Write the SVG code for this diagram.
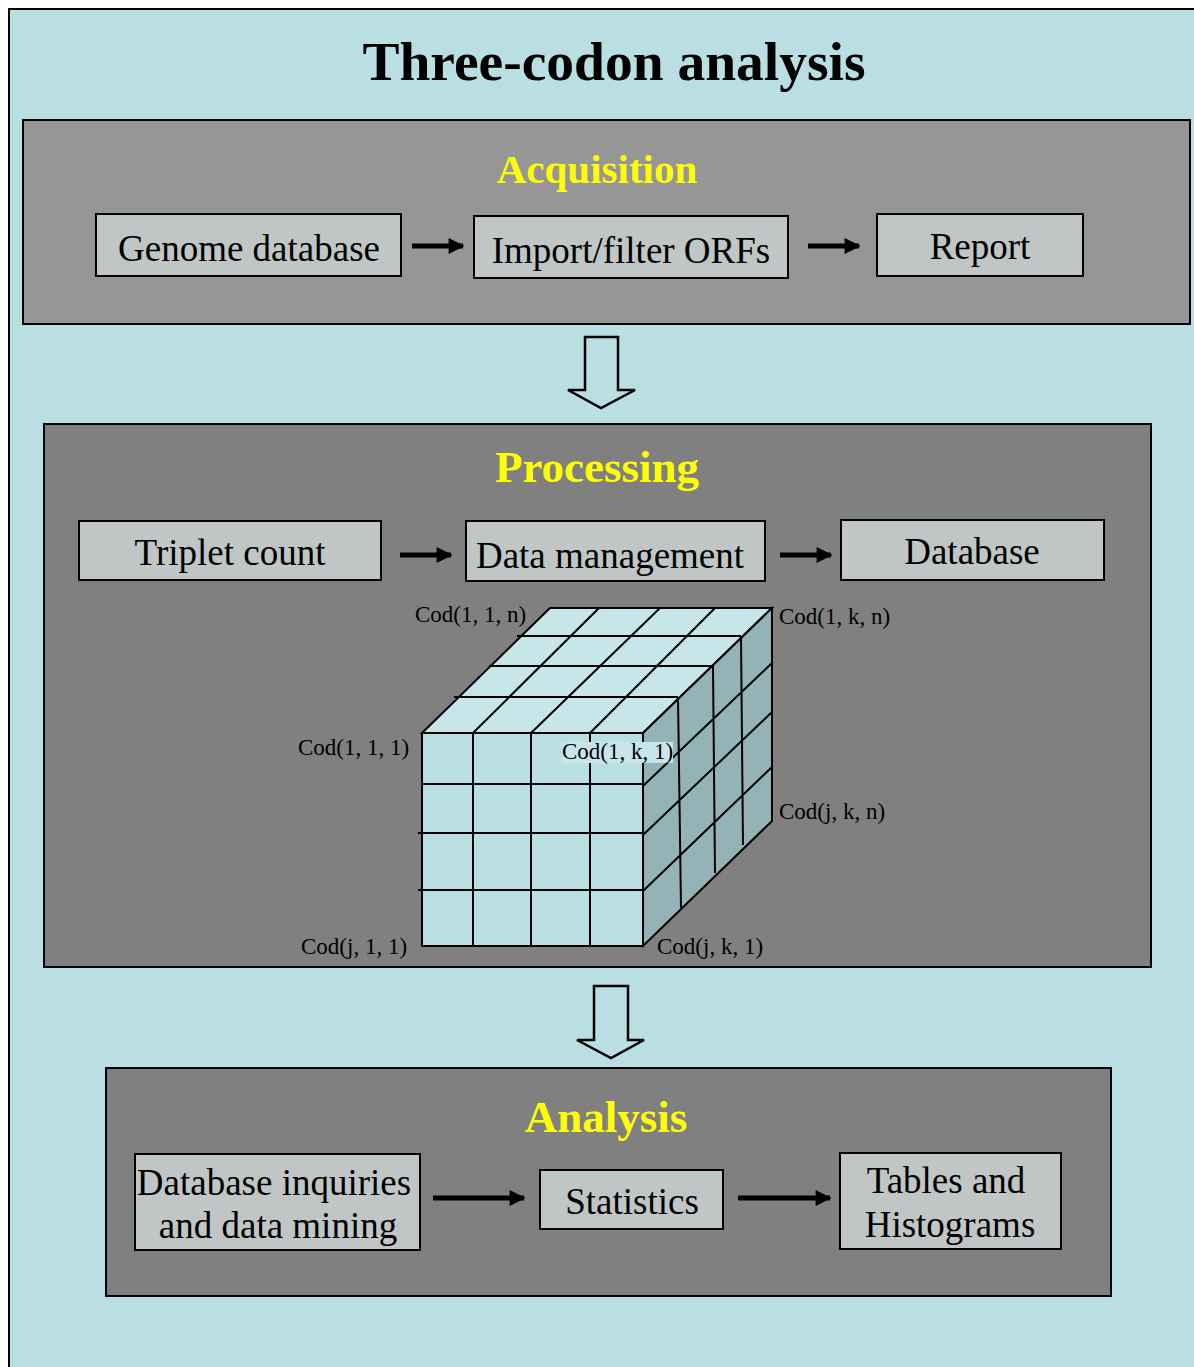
<svg xmlns="http://www.w3.org/2000/svg" width="1194" height="1367" viewBox="0 0 1194 1367">
<defs>
<style>
.panel{stroke:#000;stroke-width:2}
.box{fill:#c0c6c6;stroke:#000;stroke-width:2}
.bt{font-family:"Liberation Serif",serif;font-size:37px;fill:#000;text-anchor:middle}
.ht{font-family:"Liberation Serif",serif;font-weight:bold;fill:#ffff00;text-anchor:middle}
.lbl{font-family:"Liberation Serif",serif;font-size:23px;fill:#000}
.conn{stroke:#000;stroke-width:5;fill:none}
.hollow{fill:#b9dfe3;stroke:#000;stroke-width:2.5;stroke-linejoin:miter}
.grid{stroke:#000;stroke-width:2;fill:none}
</style>
<marker id="ah" viewBox="0 0 10 10" refX="9" refY="5" markerWidth="3.4" markerHeight="3.2" orient="auto" markerUnits="strokeWidth">
<path d="M0,0 L10,5 L0,10 Z" fill="#000"/>
</marker>
</defs>
<rect x="0" y="0" width="1194" height="1367" fill="#ffffff"/>
<rect x="9" y="9" width="1200" height="1400" fill="#b9dfe3" stroke="#000" stroke-width="2"/>
<text x="614" y="80" font-family="Liberation Serif,serif" font-weight="bold" font-size="55.5" text-anchor="middle">Three-codon analysis</text>

<g id="acquisition">
<rect class="panel" x="23" y="120" width="1167" height="204" fill="#969696"/>
<text class="ht" x="597" y="183" font-size="41">Acquisition</text>
</g>
<g id="genome-database"><rect class="box" x="96" y="214" width="305" height="62"/><text class="bt" x="249" y="261">Genome database</text></g>
<g id="import-filter"><rect class="box" x="474" y="216" width="314" height="62"/><text class="bt" x="631" y="263">Import/filter ORFs</text></g>
<g id="report"><rect class="box" x="877" y="214" width="206" height="62"/><text class="bt" x="980" y="259">Report</text></g>

<g id="processing">
<rect class="panel" x="44" y="424" width="1107" height="543" fill="#808080"/>
<text class="ht" x="597" y="482" font-size="45">Processing</text>
</g>
<g id="triplet-count"><rect class="box" x="79" y="521" width="302" height="59"/><text class="bt" x="230" y="565">Triplet count</text></g>
<g id="data-management"><rect class="box" x="466" y="521" width="299" height="60"/><text class="bt" x="610" y="568">Data management</text></g>
<g id="database"><rect class="box" x="841" y="520" width="263" height="60"/><text class="bt" x="972" y="564">Database</text></g>

<g id="cube">
<polygon points="422,733 643,733 772,608 550,608" fill="#c6e6ea" stroke="#000" stroke-width="2"/>
<polygon points="643,733 772,608 772,821 643,946" fill="#94b3b6" stroke="#000" stroke-width="2"/>
<rect x="422" y="733" width="221" height="213" fill="#badfe2" stroke="#000" stroke-width="2"/>
<path class="grid" d="M517,636 L741,636 M489,666 L713,666 M454,697 L678,697"/>
<path class="grid" d="M473,733 L599,608 M531,733 L660,608 M590,733 L715,608"/>
<path class="grid" d="M473,733 L473,946 M531,733 L531,946 M590,733 L590,946 M422,784 L643,784 M418,833 L643,833 M418,890 L643,890"/>
<path class="grid" d="M678,697 L681,908 M713,666 L715,873 M741,636 L743,845 M643,786 L772,663 M643,835 L772,712 M643,891 L772,767"/>
</g>
<g id="cube-labels">
<text class="lbl" x="415" y="622">Cod(1, 1, n)</text>
<text class="lbl" x="779" y="624">Cod(1, k, n)</text>
<text class="lbl" x="298" y="755">Cod(1, 1, 1)</text>
<rect x="562" y="742" width="111" height="21" fill="#c8e6ea"/>
<text class="lbl" x="562" y="759">Cod(1, k, 1)</text>
<text class="lbl" x="779" y="819">Cod(j, k, n)</text>
<text class="lbl" x="301" y="954">Cod(j, 1, 1)</text>
<text class="lbl" x="657" y="954">Cod(j, k, 1)</text>
</g>

<g id="analysis">
<rect class="panel" x="106" y="1068" width="1005" height="228" fill="#808080"/>
<text class="ht" x="606" y="1132" font-size="45">Analysis</text>
</g>
<g id="db-inquiries"><rect class="box" x="135" y="1154" width="285" height="96"/><text class="bt" x="274" y="1195">Database inquiries</text><text class="bt" x="278" y="1238">and data mining</text></g>
<g id="statistics"><rect class="box" x="540" y="1170" width="183" height="59"/><text class="bt" x="632" y="1214">Statistics</text></g>
<g id="tables"><rect class="box" x="840" y="1153" width="221" height="96"/><text class="bt" x="946" y="1193">Tables and</text><text class="bt" x="950" y="1237">Histograms</text></g>

<g id="connectors">
<line class="conn" x1="412" y1="246" x2="463" y2="246" marker-end="url(#ah)"/>
<line class="conn" x1="808" y1="246" x2="859" y2="246" marker-end="url(#ah)"/>
<line class="conn" x1="400" y1="555" x2="451" y2="555" marker-end="url(#ah)"/>
<line class="conn" x1="780" y1="555" x2="831" y2="555" marker-end="url(#ah)"/>
<line class="conn" x1="433" y1="1198" x2="524" y2="1198" marker-end="url(#ah)"/>
<line class="conn" x1="738" y1="1198" x2="830" y2="1198" marker-end="url(#ah)"/>
<polygon class="hollow" points="585,337 618,337 618,390 635,390 601,408 568,390 585,390"/>
<polygon class="hollow" points="594,986 628,986 628,1040 644,1040 611,1058 577,1040 594,1040"/>
</g>
</svg>
